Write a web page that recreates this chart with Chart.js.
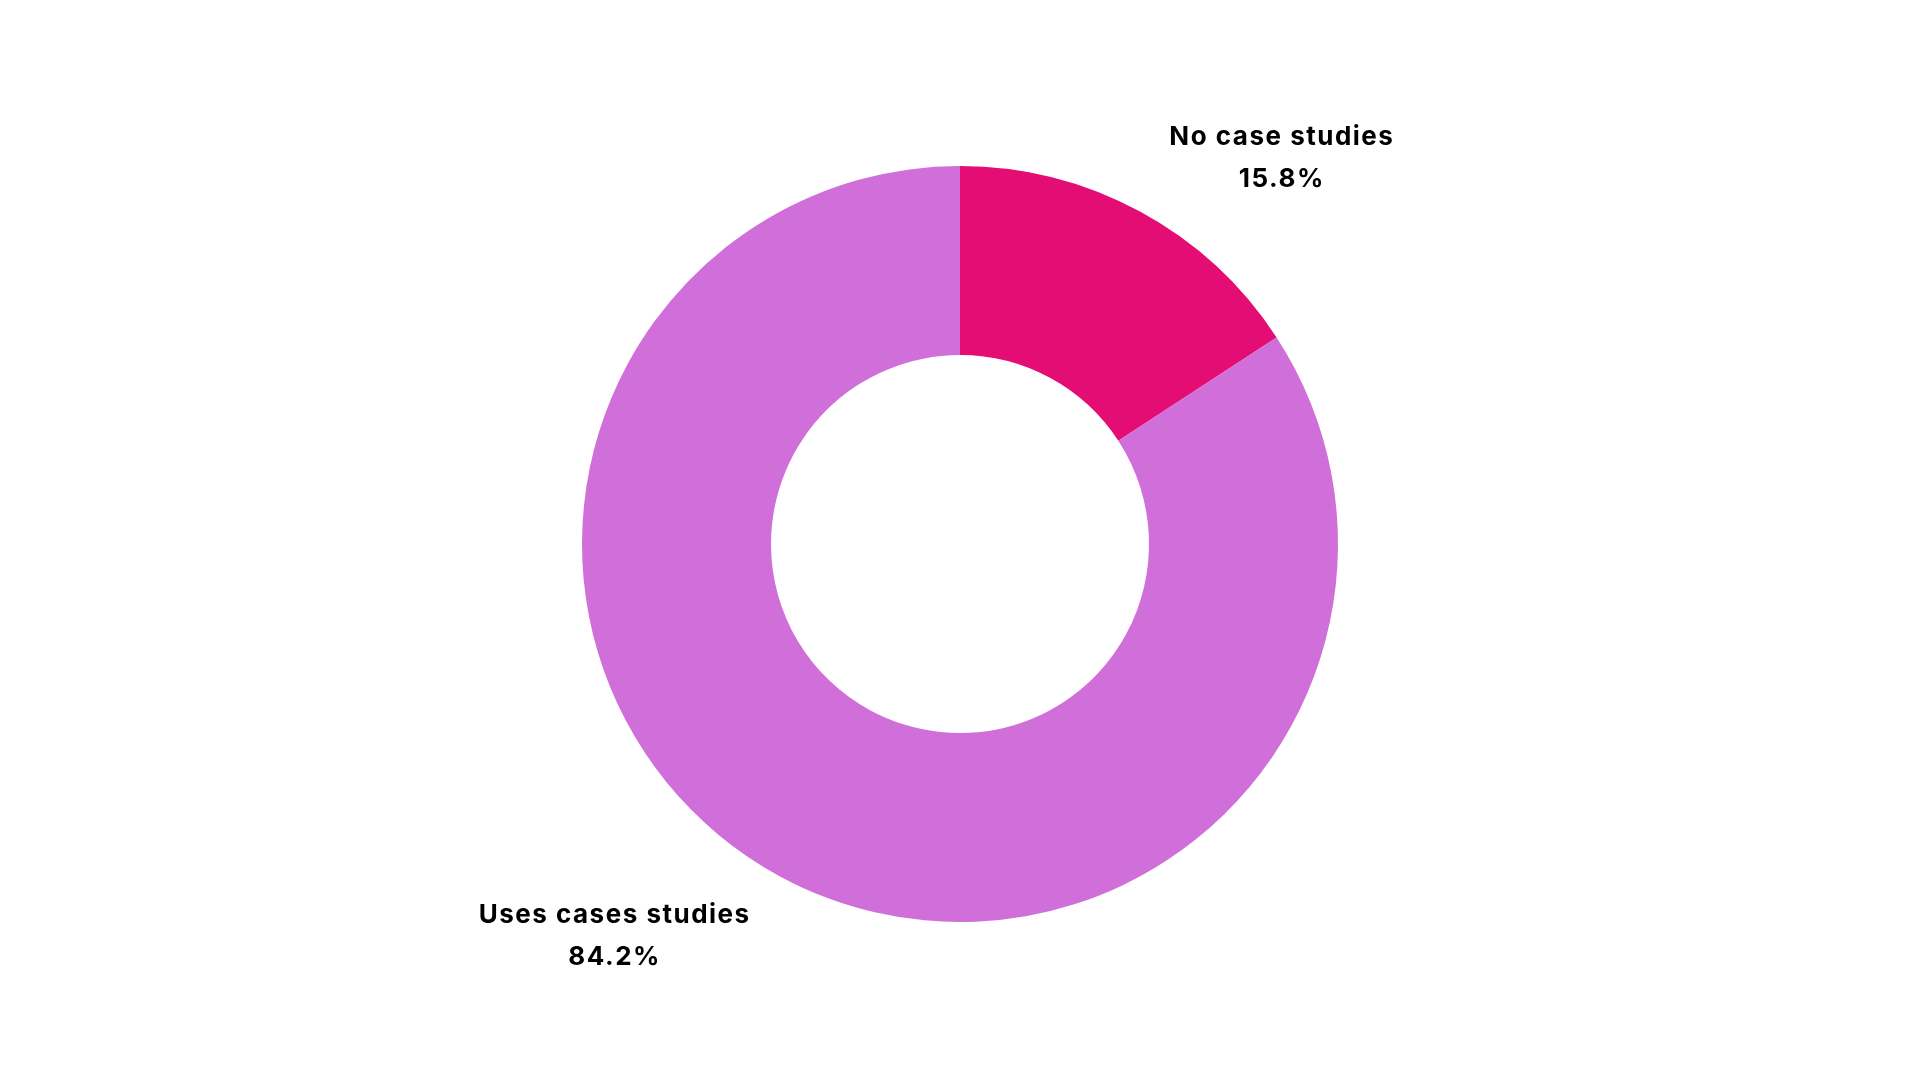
<!DOCTYPE html>
<html>
<head>
<meta charset="utf-8">
<script src="https://cdn.jsdelivr.net/npm/chart.js@4.4.1/dist/chart.umd.min.js"></script>
<style>
  html, body { margin: 0; padding: 0; background: #fff; }
  #wrap { width: 1920px; height: 1080px; }
</style>
</head>
<body>
<div id="wrap"><canvas id="donut" width="1920" height="1080"></canvas></div>
<script>
// chart data
const labels = ['No case studies', 'Uses cases studies'];
const values = [15.8, 84.2];
const colors = ['#E30D74', '#D06FDA'];

const labelFont = '700 26px Inter, "Noto Sans", sans-serif';

// draws the two-line labels outside each slice, plotly style
const outsideLabels = {
    id: 'outsideLabels',
    afterDatasetsDraw(chart) {
        const ctx = chart.ctx;
        const meta = chart.getDatasetMeta(0);
        ctx.save();
        ctx.font = labelFont;
        ctx.letterSpacing = '1.5px';
        ctx.fillStyle = '#000';
        ctx.textBaseline = 'alphabetic';
        ctx.textAlign = 'center';
        meta.data.forEach((arc, i) => {
            const p = arc.getProps(['x', 'y', 'startAngle', 'endAngle', 'outerRadius'], true);
            const mid = (p.startAngle + p.endAngle) / 2;
            const r = p.outerRadius + 28;
            const right = Math.cos(mid) >= 0;
            const px = p.x + Math.cos(mid) * r + (right ? 16 : -16);
            const py = p.y + Math.sin(mid) * r;
            const lines = [labels[i], values[i].toFixed(1) + '%'];
            const w = Math.max(...lines.map(l => ctx.measureText(l).width));
            const left = right ? px : px - w;
            const top = Math.sin(mid) < 0 ? py - 64 : py;
            ctx.fillText(lines[0], left + w / 2, top + 22);
            ctx.fillText(lines[1], left + w / 2, top + 64);
        });
        ctx.restore();
    }
};

new Chart(document.getElementById('donut'), {
    type: 'doughnut',
    data: {
        labels: labels,
        datasets: [{
            data: values,
            backgroundColor: colors,
            borderWidth: 0
        }]
    },
    options: {
        responsive: false,
        animation: false,
        cutout: '50%',
        layout: { padding: { top: 166, bottom: 158 } },
        plugins: {
            legend: { display: false },
            tooltip: { enabled: false }
        }
    },
    plugins: [outsideLabels]
});
</script>
</body>
</html>
